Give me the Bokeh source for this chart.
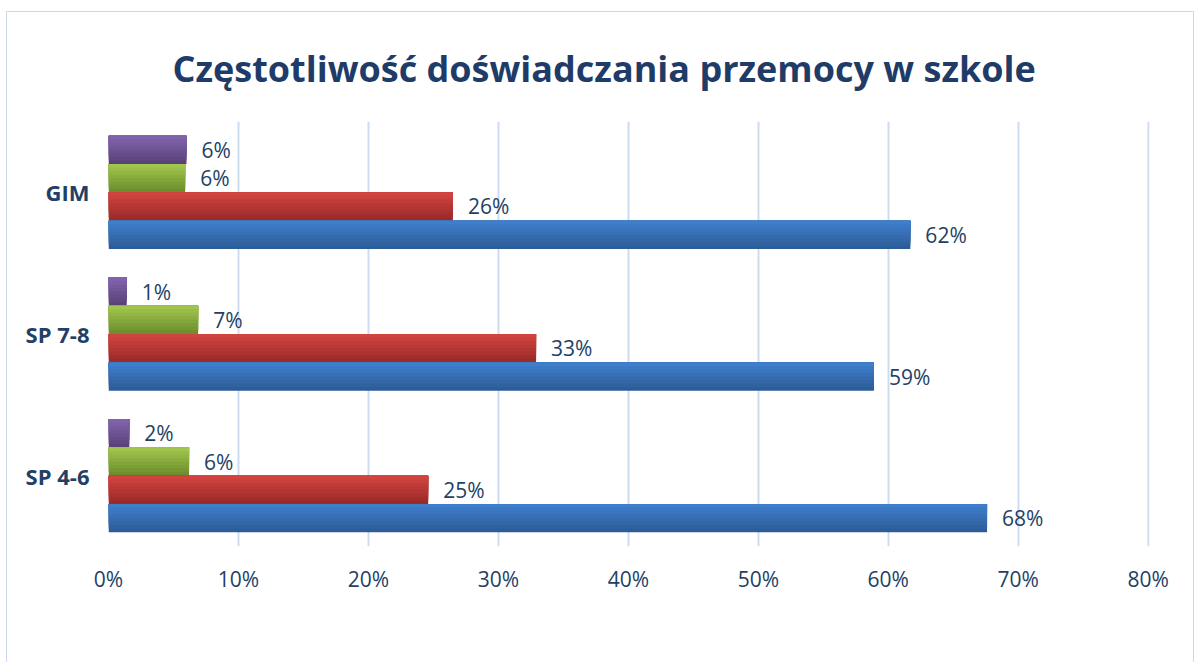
from bokeh.plotting import figure
from bokeh.models import ColumnDataSource, FactorRange, Legend, LegendItem, PrintfTickFormatter, FixedTicker
from bokeh.transform import dodge
from bokeh.core.properties import value
from bokeh.embed import file_html
from bokeh.resources import INLINE

title = "Częstotliwość doświadczania przemocy w szkole"
groups = ["SP 4-6", "SP 7-8", "GIM"]          # bottom to top
series = ["bardzo często", "często", "rzadko", "nigdy"]
bardzo_czesto = [1.6, 1.4, 6.0]
czesto = [6.2, 6.9, 5.9]
rzadko = [24.6, 32.9, 26.5]
nigdy = [67.6, 58.9, 61.7]
x_ticks = [0, 10, 20, 30, 40, 50, 60, 70, 80]

# (top colour, bottom colour) of each series' vertical gradient
gradients = [("#8163AD", "#5A4279"), ("#A0C54C", "#6E8E2D"),
             ("#D1433F", "#9A2B29"), ("#3F7ECB", "#2D5D99")]
offsets = [0.3, 0.1, -0.1, -0.3]
values_by_series = [bardzo_czesto, czesto, rzadko, nigdy]
BAR_H = 0.2
STEPS = 8

FONT = "Open Sans"
NAVY = "#233F66"


def mix(c1, c2, t):
    a = [int(c1[i:i + 2], 16) for i in (1, 3, 5)]
    b = [int(c2[i:i + 2], 16) for i in (1, 3, 5)]
    return "#%02x%02x%02x" % tuple(round(x + (y - x) * t) for x, y in zip(a, b))


p = figure(frame_width=1041, frame_height=425, y_range=FactorRange(factors=groups),
           x_range=(0, 80.1), output_backend="svg", toolbar_location=None,
           min_border_left=101, min_border_right=44, min_border_top=108,
           min_border_bottom=0)
p.styles = {"border": "1px solid #C9DAF0", "margin-left": "6px", "margin-top": "11px"}
p.title.text = title
p.title.align = "left"
p.title.offset = 64
p.title.text_font = FONT
p.title.text_font_size = "36px"
p.title.text_font_style = "bold"
p.title.text_color = "#1F3C68"
p.title.standoff = 58

p.outline_line_color = None
p.ygrid.grid_line_color = None
p.xgrid.grid_line_color = "#CCDCF0"
p.xgrid.grid_line_width = 2
p.xaxis.ticker = FixedTicker(ticks=x_ticks)
p.xaxis.formatter = PrintfTickFormatter(format="%d%%")
for ax in (p.xaxis, p.yaxis):
    ax.axis_line_color = None
    ax.major_tick_line_color = None
    ax.minor_tick_line_color = None
    ax.major_tick_out = 0
    ax.major_tick_in = 0
    ax.minor_tick_out = 0
    ax.major_label_text_font = FONT
    ax.major_label_text_color = NAVY
    ax.major_label_text_font_size = "21px"
p.xaxis.major_label_standoff = 18
p.yaxis.major_label_standoff = 19
p.yaxis.major_label_text_font_size = "22px"
p.yaxis.major_label_text_font_style = "bold"

items = []
for name, vals, (top, bottom), off in zip(series, values_by_series, gradients, offsets):
    src = ColumnDataSource(dict(group=groups, val=vals,
                                label=[f"{round(v):d}%" for v in vals]))
    legend_r = None
    for k in range(STEPS):
        h = BAR_H * (STEPS - k) / STEPS
        col = mix(bottom, top, k / (STEPS - 1))
        r = p.hbar(y=dodge("group", off + BAR_H / 2 - h / 2, range=p.y_range),
                   left=0, right="val", height=h, source=src,
                   fill_color=col, line_color=None)
        if k == STEPS // 2:
            legend_r = r
    p.text(x="val", y=dodge("group", off, range=p.y_range), text="label",
           source=src, x_offset=15, text_baseline="middle",
           text_font=value(FONT), text_font_size="21px", text_color=NAVY)
    items.append(LegendItem(label=name, renderers=[legend_r]))

legend = Legend(items=items, orientation="horizontal", location="top_center",
                glyph_width=13, glyph_height=13, spacing=22, margin=21, padding=4,
                label_text_font=FONT, label_text_font_size="20px",
                label_text_font_style="bold", label_text_color=NAVY,
                border_line_color=None, background_fill_alpha=0)
p.add_layout(legend, "below")

open("out.html", "w").write(file_html(p, INLINE))
